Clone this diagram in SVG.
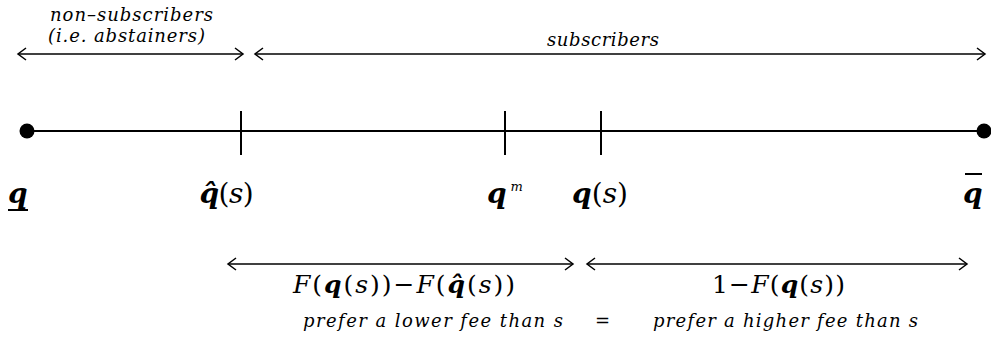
<svg xmlns="http://www.w3.org/2000/svg" width="991" height="347" viewBox="0 0 991 347">
<style>
text{font-family:"DejaVu Serif","Liberation Serif","Times New Roman",serif;fill:#000}
.it{font-style:italic}
.bi{font-style:italic;font-weight:bold}
.up{font-style:normal;font-weight:normal}
.ax{stroke:#000;stroke-width:2;fill:none}
.arr{stroke:#000;stroke-width:1.5;fill:none;marker-start:url(#ah);marker-end:url(#ah)}
</style>
<defs>
<marker id="ah" markerUnits="userSpaceOnUse" markerWidth="20" markerHeight="20" refX="0" refY="0" orient="auto-start-reverse" overflow="visible">
<path d="M-8,-6 L0,0 L-8,6" fill="none" stroke="#000" stroke-width="1.5"/>
</marker>
</defs>
<rect width="991" height="347" fill="#fff"/>

<g id="connectors">
<line class="arr" x1="18" y1="54" x2="243" y2="54"/>
<line class="arr" x1="255" y1="54" x2="985" y2="54"/>
<line class="arr" x1="228" y1="264" x2="573" y2="264"/>
<line class="arr" x1="587" y1="264" x2="967" y2="264"/>
</g>

<g id="axis">
<line class="ax" x1="27" y1="131" x2="984" y2="131"/>
</g>

<g id="theta-low">
<circle cx="27" cy="131" r="7.5" fill="#000"/>
<text class="bi" x="8" y="203" font-size="28">q</text>
<line x1="8" y1="210" x2="28" y2="210" stroke="#000" stroke-width="2"/>
</g>

<g id="theta-hat">
<line class="ax" x1="241" y1="111" x2="241" y2="155"/>
<text x="199" y="203" font-size="28" textLength="54" lengthAdjust="spacing"><tspan class="bi">q̂</tspan><tspan class="up">(</tspan><tspan class="it">s</tspan><tspan class="up">)</tspan></text>
</g>

<g id="theta-m">
<line class="ax" x1="505" y1="111" x2="505" y2="155"/>
<text x="487" y="203" font-size="28"><tspan class="bi">q</tspan><tspan class="it" font-size="13" dx="4" dy="-12">m</tspan></text>
</g>

<g id="theta-s">
<line class="ax" x1="601" y1="111" x2="601" y2="155"/>
<text x="572" y="203" font-size="28" textLength="56" lengthAdjust="spacing"><tspan class="bi">q</tspan><tspan class="up">(</tspan><tspan class="it">s</tspan><tspan class="up">)</tspan></text>
</g>

<g id="theta-high">
<circle cx="984" cy="131" r="7.5" fill="#000"/>
<line x1="965" y1="174" x2="982" y2="174" stroke="#000" stroke-width="2"/>
<text class="bi" x="963" y="203" font-size="28">q</text>
</g>

<g id="label-nonsubscribers">
<text class="it" x="50" y="21" font-size="18" textLength="163" lengthAdjust="spacing">non–subscribers</text>
<text class="it" x="48" y="42" font-size="18" textLength="157" lengthAdjust="spacing">(i.e. abstainers)</text>
</g>

<g id="label-subscribers">
<text class="it" x="547" y="46" font-size="18" textLength="112" lengthAdjust="spacing">subscribers</text>
</g>

<g id="label-lower">
<text x="293" y="293" font-size="25" textLength="222" lengthAdjust="spacing"><tspan class="it">F</tspan><tspan class="up">(</tspan><tspan class="bi">q</tspan><tspan class="up">(</tspan><tspan class="it">s</tspan><tspan class="up">))−</tspan><tspan class="it">F</tspan><tspan class="up">(</tspan><tspan class="bi">q̂</tspan><tspan class="up">(</tspan><tspan class="it">s</tspan><tspan class="up">))</tspan></text>
<text class="it" x="303" y="327" font-size="18" textLength="260" lengthAdjust="spacing">prefer a lower fee than s</text>
</g>

<g id="label-equals">
<text class="up" x="595" y="327" font-size="18">=</text>
</g>

<g id="label-higher">
<text x="712" y="293" font-size="25" textLength="133" lengthAdjust="spacing"><tspan class="up">1−</tspan><tspan class="it">F</tspan><tspan class="up">(</tspan><tspan class="bi">q</tspan><tspan class="up">(</tspan><tspan class="it">s</tspan><tspan class="up">))</tspan></text>
<text class="it" x="653" y="327" font-size="18" textLength="265" lengthAdjust="spacing">prefer a higher fee than s</text>
</g>
</svg>
